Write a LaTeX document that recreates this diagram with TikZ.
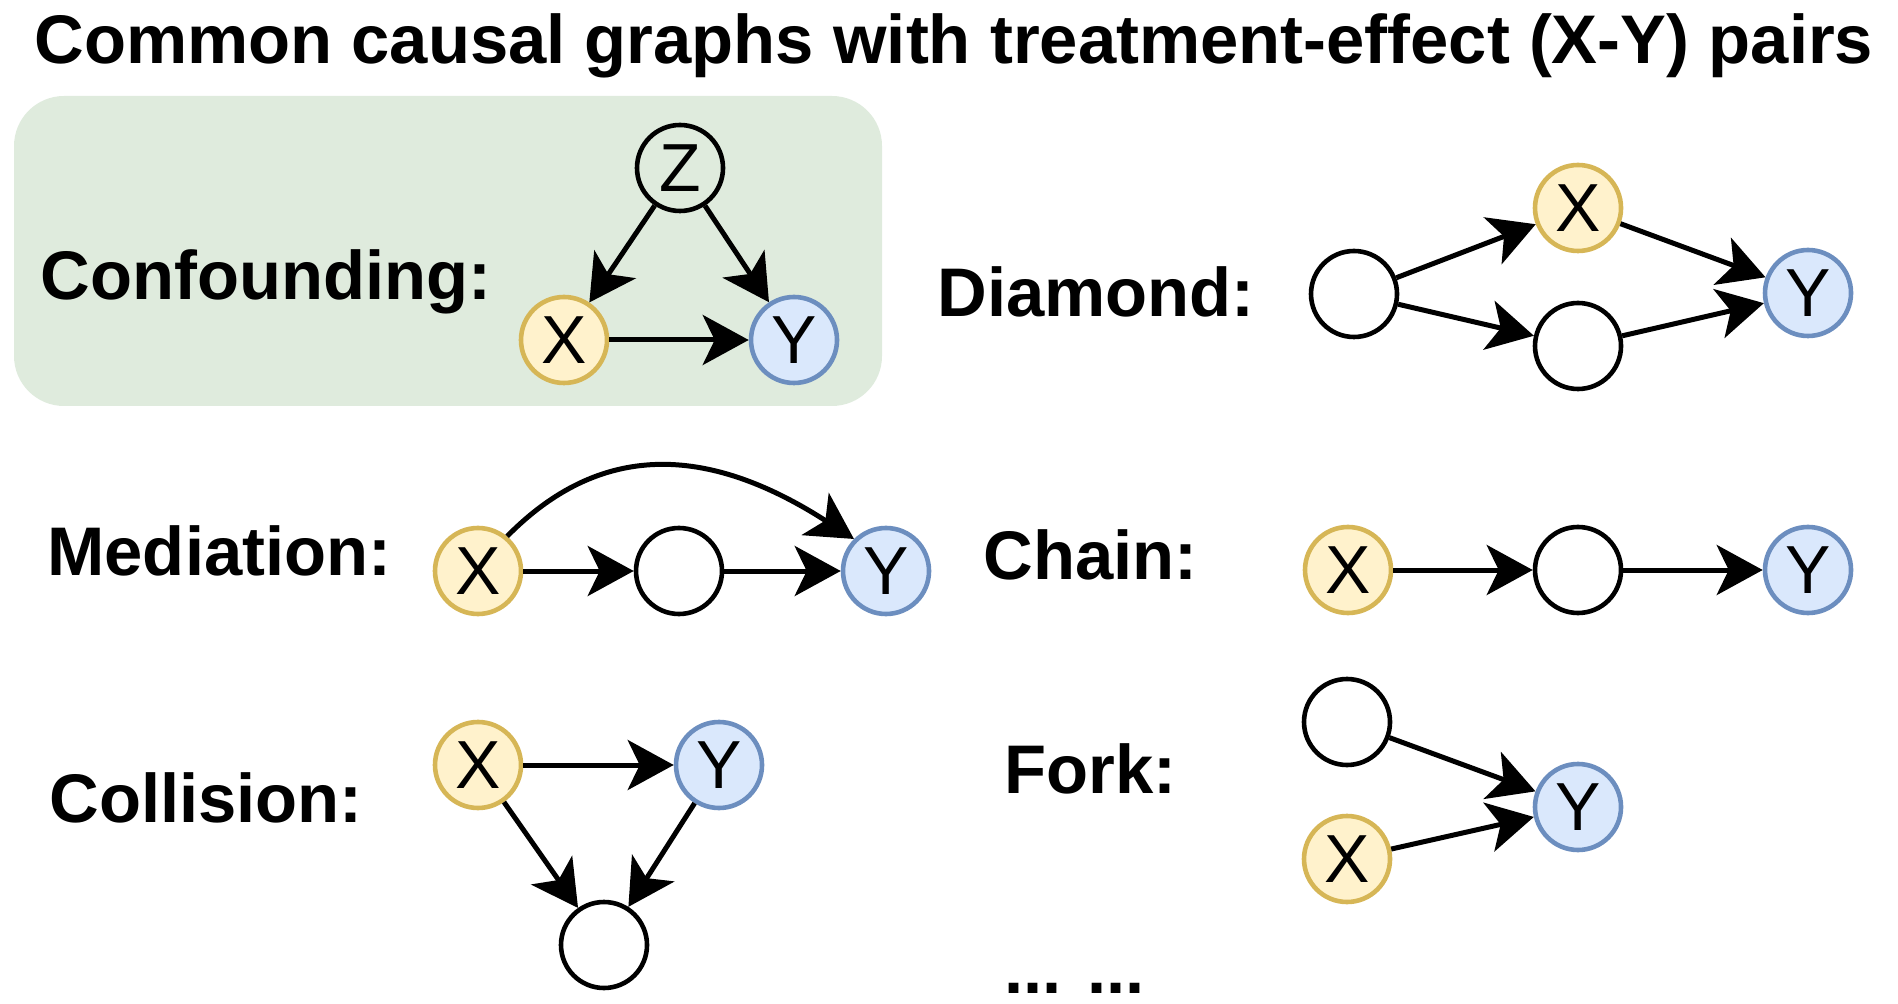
\documentclass[tikz,border=0pt]{standalone}
\usepackage{fontspec}
\setmainfont{Liberation Sans}
\usetikzlibrary{arrows.meta}
\definecolor{xfill}{HTML}{FFF2CC}
\definecolor{xline}{HTML}{D6B656}
\definecolor{yfill}{HTML}{DAE8FC}
\definecolor{yline}{HTML}{6C8EBF}
\definecolor{boxgreen}{RGB}{223,235,221}
\begin{document}
\begin{tikzpicture}
[x=0.5pt,y=-0.5pt,
 var/.style={circle,draw,line width=2.3pt,minimum size=43pt,inner sep=0pt,
   font=\fontsize{34}{40}\selectfont},
 treat/.style={var,draw=xline,fill=xfill},
 eff/.style={var,draw=yline,fill=yfill},
 lbl/.style={anchor=base west,inner sep=0pt,font=\fontsize{34.4}{40}\selectfont\bfseries},
 arr/.style={-{Stealth[length=23pt,width=25pt,inset=6pt]},line width=2.5pt}]
\useasboundingbox (0,0) rectangle (1898,1004);

\node[lbl] (title) at (34,64) {Common causal graphs with treatment-effect (X-Y) pairs};

% confounding
\fill[boxgreen,rounded corners=25pt] (14,96) rectangle (882,406);
\node[lbl] (conf) at (40,300) {Confounding:};
\node[var] (cZ) at (680,168) {Z};
\node[treat] (cX) at (564,340) {X};
\node[eff] (cY) at (794,340) {Y};
\draw[arr] (cZ) -- (cX);
\draw[arr] (cZ) -- (cY);
\draw[arr] (cX) -- (cY);

% diamond
\node[lbl] (diam) at (937,317) {Diamond:};
\node[var] (dU) at (1354,294) {};
\node[treat] (dX) at (1578,208) {X};
\node[var] (dM) at (1578,346) {};
\node[eff] (dY) at (1808,293) {Y};
\draw[arr] (dU) -- (dX);
\draw[arr] (dU) -- (dM);
\draw[arr] (dX) -- (dY);
\draw[arr] (dM) -- (dY);

% mediation
\node[lbl] (med) at (47,575) {Mediation:};
\node[treat] (mX) at (478,571) {X};
\node[var] (mM) at (679,571) {};
\node[eff] (mY) at (886,571) {Y};
\draw[arr] (mX) -- (mM);
\draw[arr] (mM) -- (mY);
\draw[arr] (mX.50) .. controls (599,443) and (705,443) .. (mY.135);

% chain
\node[lbl] (chain) at (983,580) {Chain:};
\node[treat] (chX) at (1348,570) {X};
\node[var] (chM) at (1578,570) {};
\node[eff] (chY) at (1808,570) {Y};
\draw[arr] (chX) -- (chM);
\draw[arr] (chM) -- (chY);

% collision
\node[lbl] (coll) at (49,822) {Collision:};
\node[treat] (kX) at (478,765) {X};
\node[eff] (kY) at (719,765) {Y};
\node[var] (kB) at (604,945) {};
\draw[arr] (kX) -- (kY);
\draw[arr] (kX) -- (kB);
\draw[arr] (kY) -- (kB);

% fork
\node[lbl] (fork) at (1004,793) {Fork:};
\node[var] (fT) at (1347,722) {};
\node[treat] (fX) at (1347,859) {X};
\node[eff] (fY) at (1578,807) {Y};
\draw[arr] (fT) -- (fY);
\draw[arr] (fX) -- (fY);

\node[lbl] (more) at (1004,993) {... ...};
\end{tikzpicture}
\end{document}
